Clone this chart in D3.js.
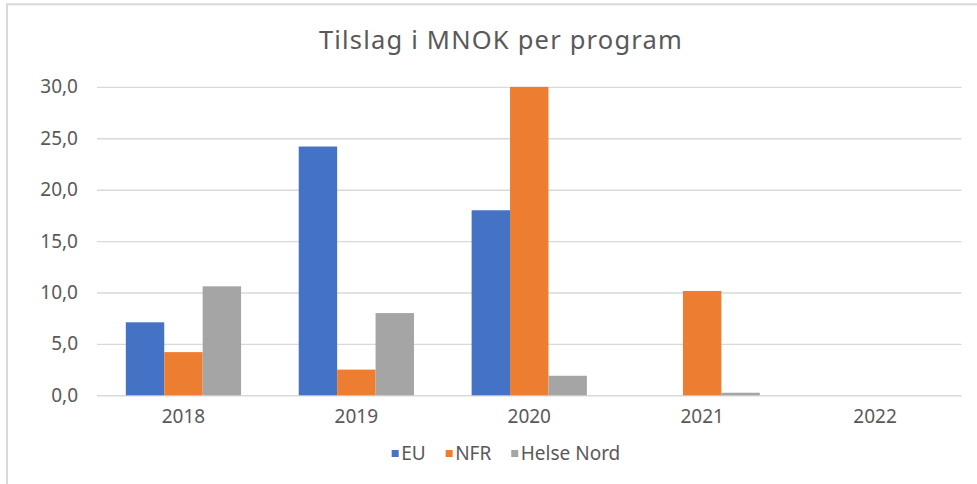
<!DOCTYPE html>
<html>
<head>
<meta charset="utf-8">
<script src="https://cdn.jsdelivr.net/npm/d3@7"></script>
<style>
  body { margin: 0; background: #fff; }
  svg { display: block; font-family: "Noto Sans", "Open Sans", sans-serif; }
</style>
</head>
<body>
<div id="graph"></div>
<script>
const svgw = 977
const svgh = 484

// data
const years = ['2018', '2019', '2020', '2021', '2022']
const seriesNames = ['EU', 'NFR', 'Helse Nord']
const eu = [7.1, 24.2, 18.0, 0, 0]
const nfr = [4.2, 2.5, 30.0, 10.15, 0]
const helseNord = [10.6, 8.0, 1.9, 0.25, 0]
const yTicks = [0, 5, 10, 15, 20, 25, 30]
const colors = ['#4472C4', '#ED7D31', '#A5A5A5']

const seriesValues = [eu, nfr, helseNord]
const rows = years.map((y, i) => ({
    year: y,
    vals: seriesNames.map((s, j) => ({ name: s, value: seriesValues[j][i], color: colors[j] }))
}))

const plotLeft = 97, plotRight = 961.5, plotTop = 86.9, plotBottom = 395.3
const textColor = '#595959'

const svg = d3.select('#graph')
    .append('svg')
    .attr('width', svgw)
    .attr('height', svgh)

// chart border (cut off at right/bottom like the reference)
svg.append('path')
    .attr('d', `M7,${svgh + 5} V4.3 H${svgw + 5}`)
    .attr('fill', 'none')
    .attr('stroke', '#D9D9D9')
    .attr('stroke-width', 2)

svg.append('text')
    .attr('x', 501)
    .attr('y', 49)
    .attr('text-anchor', 'middle')
    .attr('font-size', 25.5)
    .attr('letter-spacing', 1.2)
    .attr('fill', textColor)
    .text('Tilslag i MNOK per program')

const yScale = d3.scaleLinear()
    .domain([0, 30])
    .range([plotBottom, plotTop])

const x0 = d3.scaleBand()
    .domain(years)
    .range([plotLeft, plotRight])
    .padding(0)

const bw = x0.bandwidth()
const x1 = d3.scaleBand()
    .domain(seriesNames)
    .range([bw * 0.75 / 4.5, bw - bw * 0.75 / 4.5])

// gridlines
const yAxis = d3.axisLeft(yScale)
    .tickValues(yTicks)
    .tickSize(-(plotRight - plotLeft))
    .tickPadding(19)
    .tickFormat(d => d3.format('.1f')(d).replace('.', ','))

const gy = svg.append('g')
    .attr('transform', `translate(${plotLeft},0)`)
    .call(yAxis)
gy.select('.domain').remove()
gy.selectAll('.tick line')
    .attr('stroke', '#D9D9D9')
    .attr('stroke-width', 1.4)
gy.selectAll('.tick text')
    .attr('font-size', 19)
    .attr('fill', textColor)
    .attr('font-family', '"Noto Sans", sans-serif')

// bars
const groups = svg.selectAll('g.year')
    .data(rows)
    .enter()
    .append('g')
    .attr('class', 'year')
    .attr('transform', d => `translate(${x0(d.year)},0)`)

groups.selectAll('rect')
    .data(d => d.vals)
    .enter()
    .append('rect')
    .attr('x', d => x1(d.name))
    .attr('width', x1.bandwidth())
    .attr('y', d => yScale(d.value))
    .attr('height', d => yScale(0) - yScale(d.value))
    .attr('fill', d => d.color)

// x axis labels
const xAxis = d3.axisBottom(x0).tickSize(0).tickPadding(14)
const gx = svg.append('g')
    .attr('transform', `translate(0,${plotBottom})`)
    .call(xAxis)
gx.select('.domain').remove()
gx.selectAll('.tick text')
    .attr('font-size', 19)
    .attr('fill', textColor)
    .attr('font-family', '"Noto Sans", sans-serif')

// legend
const legend = svg.append('g')
let lx = 0
seriesNames.forEach((name, i) => {
    const item = legend.append('g').attr('transform', `translate(${lx},0)`)
    item.append('rect')
        .attr('x', 0).attr('y', -3.5)
        .attr('width', 7).attr('height', 7)
        .attr('fill', colors[i])
    const t = item.append('text')
        .attr('x', 9.5)
        .attr('y', 0)
        .attr('dy', '0.35em')
        .attr('font-size', 19)
        .attr('fill', textColor)
        .text(name)
    lx += 9.5 + t.node().getComputedTextLength() + 20
})
const legendW = lx - 20
legend.attr('transform', `translate(${506 - legendW / 2},453.5)`)
</script>
</body>
</html>
